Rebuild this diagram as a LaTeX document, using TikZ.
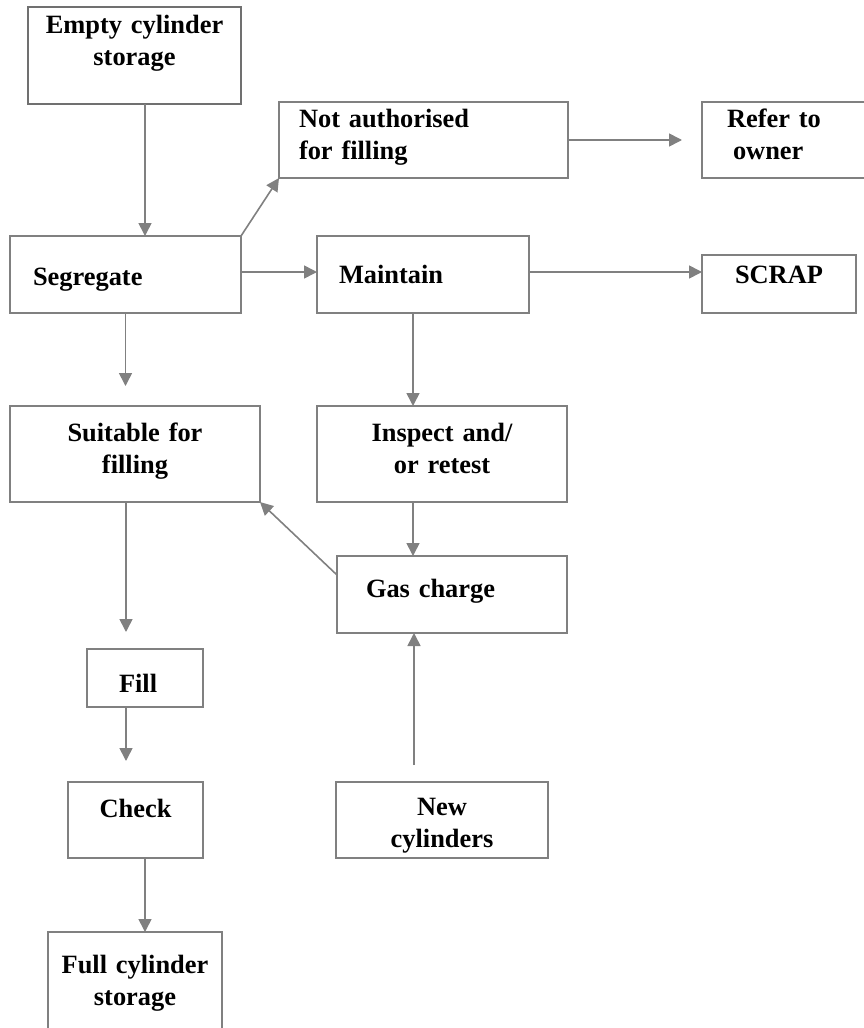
\documentclass[tikz,border=0pt]{standalone}
\usepackage{fontspec}
\setmainfont{Liberation Serif}
\usepackage{tikz}
\usetikzlibrary{arrows.meta}

\definecolor{linegray}{RGB}{128,128,128}
\definecolor{darkgray}{RGB}{112,112,112}
\newcommand{\boxfont}{\fontsize{26.4pt}{32pt}\selectfont\bfseries}

\begin{document}
\begin{tikzpicture}[x=1pt, y=-1pt,
    box/.style={draw=linegray, line width=1.6pt, rectangle, anchor=north west,
        inner ysep=0pt, outer sep=0pt, font=\boxfont},
    flow/.style={draw=linegray, line width=1.6pt,
        -{Triangle[length=13pt, width=13pt]}}]
    \useasboundingbox (0,0) rectangle (864,1028);
    % Nodes
    \node[box, draw=darkgray, line width=2.6pt, at={(28,7)}, text width=193pt, inner xsep=10pt,
        minimum height=97pt, align=center, text height=0pt, text depth=45pt] (empty) {Empty cylinder\\storage};
    \node[box, at={(279,102)}, text width=249pt, inner xsep=20pt, minimum height=76pt,
        align=left, text height=0pt, text depth=26pt] (notauth) {Not authorised\\for filling};
    \node[box, at={(702,102)}, text width=114pt, inner xsep=25pt, minimum height=76pt,
        align=left, text height=0pt, text depth=26pt] (refer) {Refer to\\\hspace*{6pt}owner};
    \node[box, at={(10,236)}, text width=185pt, inner xsep=23pt, minimum height=77pt,
        align=left, text height=21pt, text depth=0pt] (seg) {Segregate};
    \node[box, at={(317,236)}, text width=168pt, inner xsep=22pt, minimum height=77pt,
        align=left, text height=17pt, text depth=0pt] (maint) {Maintain};
    \node[box, at={(702,255)}, text width=134pt, inner xsep=10pt, minimum height=58pt,
        align=center, text height=0pt, text depth=2pt] (scrap) {SCRAP};
    \node[box, at={(10,406)}, text width=230pt, inner xsep=10pt, minimum height=96pt,
        align=center, text height=0pt, text depth=26pt] (suit) {Suitable for\\filling};
    \node[box, at={(317,406)}, text width=230pt, inner xsep=10pt, minimum height=96pt,
        align=center, text height=0pt, text depth=26pt] (insp) {Inspect and/\\or retest};
    \node[box, at={(337,556)}, text width=172pt, inner xsep=29pt, minimum height=77pt,
        align=left, text height=5pt, text depth=0pt] (gas) {Gas charge};
    \node[box, at={(87,649)}, text width=52pt, inner xsep=32pt, minimum height=58pt,
        align=left, text height=28pt, text depth=0pt] (fill) {Fill};
    \node[box, at={(68,782)}, text width=115pt, inner xsep=10pt, minimum height=76pt,
        align=center, text height=0pt, text depth=6pt] (check) {Check};
    \node[box, at={(336,782)}, text width=192pt, inner xsep=10pt, minimum height=76pt,
        align=center, text height=0pt, text depth=10pt] (newc) {New\\cylinders};
    \node[box, at={(48,932)}, text width=154pt, inner xsep=10pt, minimum height=98pt,
        align=center, text height=0pt, text depth=16pt] (full) {Full cylinder\\storage};

    % Arrows
    \draw[flow] ([xshift=10.5pt]empty.south) -- ([xshift=19.5pt]seg.north);
    \draw[flow] (seg.north east) -- (notauth.south west);
    \draw[flow, shorten >=20pt] (notauth.east) -- (refer.west);
    \draw[flow] ([yshift=2.5pt]seg.east) -- ([yshift=2.5pt]maint.west);
    \draw[flow] ([yshift=2.5pt]maint.east) -- ([yshift=12pt]scrap.west);
    \draw[flow, shorten >=20pt] (seg.south) -- ([xshift=-9.5pt]suit.north);
    \draw[flow] ([xshift=-10pt]maint.south) -- ([xshift=-29pt]insp.north);
    \draw[flow, shorten >=17pt] ([xshift=-9pt]suit.south) -- ([xshift=-19pt]fill.north);
    \draw[flow] ([xshift=-29pt]insp.south) -- ([xshift=-39pt]gas.north);
    \draw[flow] ([yshift=19.5pt]gas.west) -- (suit.south east);
    \draw[flow, shorten <=17pt] ([xshift=-28pt]newc.north) -- ([xshift=-38pt]gas.south);
    \draw[flow, shorten >=21pt] ([xshift=-19pt]fill.south) -- ([xshift=-9.5pt]check.north);
    \draw[flow] ([xshift=9.5pt]check.south) -- ([xshift=10pt]full.north);
\end{tikzpicture}
\end{document}
